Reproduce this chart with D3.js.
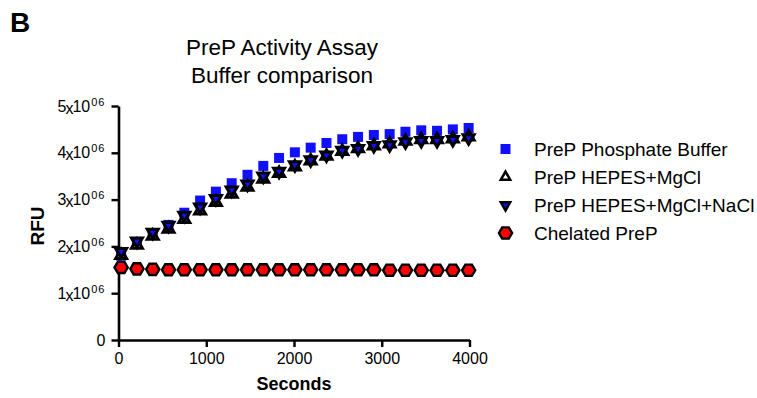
<!DOCTYPE html>
<html>
<head>
<meta charset="utf-8">
<script src="https://cdn.jsdelivr.net/npm/d3@7"></script>
<style>
  html, body { margin: 0; padding: 0; background: #fff; }
  svg { display: block; font-family: "Liberation Sans", Arial, Helvetica, sans-serif; }
</style>
</head>
<body>
<svg id="chart" width="757" height="398"></svg>
<script>
// Sampling times (seconds)
const seconds = [30, 210, 390, 570, 750, 930, 1110, 1290, 1470, 1650, 1830, 2010,
                 2190, 2370, 2550, 2730, 2910, 3090, 3270, 3450, 3630, 3810, 3990];

// Fluorescence readings, in units of 10^6 RFU
const phosphate = [1.80, 2.07, 2.27, 2.46, 2.72, 2.98, 3.17, 3.35, 3.53, 3.72, 3.89, 4.01,
                   4.11, 4.21, 4.29, 4.34, 4.38, 4.40, 4.45, 4.48, 4.47, 4.50, 4.53];
const hepesMg = [1.81, 2.03, 2.22, 2.37, 2.58, 2.76, 2.94, 3.12, 3.27, 3.44, 3.56, 3.70,
                 3.83, 3.93, 4.03, 4.09, 4.15, 4.19, 4.25, 4.28, 4.28, 4.30, 4.34];
const hepesMgNa = [1.89, 2.11, 2.30, 2.45, 2.66, 2.84, 3.02, 3.20, 3.33, 3.50, 3.60, 3.74,
                   3.85, 3.95, 4.05, 4.09, 4.15, 4.17, 4.23, 4.26, 4.26, 4.28, 4.32];
const chelated = [1.55, 1.52, 1.51, 1.50, 1.50, 1.50, 1.50, 1.50, 1.50, 1.50, 1.50, 1.50,
                  1.50, 1.50, 1.50, 1.50, 1.50, 1.49, 1.49, 1.49, 1.49, 1.49, 1.49];

const xTicks = [0, 1000, 2000, 3000, 4000];
const yTicks = [0, 1, 2, 3, 4, 5];   // x10^6

const seriesNames = ["PreP Phosphate Buffer", "PreP HEPES+MgCl", "PreP HEPES+MgCl+NaCl", "Chelated PreP"];

const svg = d3.select("#chart");
const FONT = '"Liberation Sans", Arial, Helvetica, sans-serif';

const x = d3.scaleLinear().domain([0, 4000]).range([118.5, 469.5]);
const y = d3.scaleLinear().domain([0, 5]).range([340, 106]);

// Panel letter
svg.append("text").attr("x", 10).attr("y", 32)
  .attr("font-size", 28).attr("font-weight", "bold").text("B");

// Title
const title = svg.append("text").attr("text-anchor", "middle").attr("font-size", 22.5);
title.append("tspan").attr("x", 282).attr("y", 55).text("PreP Activity Assay");
title.append("tspan").attr("x", 282).attr("y", 83).text("Buffer comparison");

// Axes
const axisStyle = g => {
  g.selectAll(".domain").attr("stroke", "#000").attr("stroke-width", 2.6);
  g.selectAll(".tick line").attr("stroke", "#000").attr("stroke-width", 2.4);
  g.selectAll("text").attr("fill", "#000").attr("font-family", FONT);
};

const xAxis = svg.append("g").attr("transform", "translate(0,340)")
  .call(d3.axisBottom(x).tickValues(xTicks).tickFormat(d3.format("d"))
    .tickSize(7).tickSizeOuter(0).tickPadding(6))
  .call(axisStyle);
xAxis.selectAll("text").attr("font-size", 16).attr("dy", "0.71em");

const yAxis = svg.append("g").attr("transform", "translate(118.5,0)")
  .call(d3.axisLeft(y).tickValues(yTicks).tickSize(7).tickSizeOuter(0).tickPadding(7))
  .call(axisStyle);

// Scientific-notation tick labels: "5x10^06"
yAxis.selectAll(".tick text").each(function(d) {
  const t = d3.select(this).text("").attr("font-size", 16).attr("x", -13);
  if (d === 0) { t.text("0"); return; }
  t.append("tspan").text(d);
  t.append("tspan").attr("dx", -1).attr("dy", 2).text("x");
  t.append("tspan").attr("dx", -1).attr("dy", -2).text("10");
  t.append("tspan").attr("font-size", 11).attr("dx", 1).attr("dy", -6).attr("letter-spacing", 1).text("06");
});

// Axis titles
svg.append("text").attr("x", 294).attr("y", 390).attr("text-anchor", "middle")
  .attr("font-size", 18).attr("font-weight", "bold").text("Seconds");
svg.append("text").attr("transform", "translate(44,226) rotate(-90)").attr("text-anchor", "middle")
  .attr("font-size", 19).attr("font-weight", "bold").text("RFU");

// Marker shapes
const squarePath = d3.symbol(d3.symbolSquare, 100)();
const triPath = d3.symbol(d3.symbolTriangle, 52)();
const hexPath = (() => {
  const rx = 6.6, ry = 5.6;
  const pts = [[-rx, 0], [-rx / 2, -ry], [rx / 2, -ry], [rx, 0], [rx / 2, ry], [-rx / 2, ry]];
  return "M" + pts.map(p => p.join(",")).join("L") + "Z";
})();

const styles = [
  { path: squarePath, rot: 0, fill: "#1010ff", stroke: "none", sw: 0 },
  { path: triPath, rot: 0, fill: "#ffffff", stroke: "#000", sw: 3 },
  { path: triPath, rot: 180, fill: "#1010ff", stroke: "#000", sw: 3 },
  { path: hexPath, rot: 0, fill: "#ff0000", stroke: "#000", sw: 2.4 }
];

const allSeries = [phosphate, hepesMg, hepesMgNa, chelated];

const plot = svg.append("g");
// Chelated first so the buffers sit on top; phosphate under the HEPES markers
[3, 0, 1, 2].forEach(i => {
  const s = styles[i];
  plot.append("g").selectAll("path")
    .data(seconds.map((t, k) => [t, allSeries[i][k]]))
    .join("path")
    .attr("d", s.path)
    .attr("transform", d => `translate(${x(d[0])},${y(d[1])}) rotate(${s.rot})`)
    .attr("fill", s.fill)
    .attr("stroke", s.stroke)
    .attr("stroke-width", s.sw)
    .attr("stroke-linejoin", "miter");
});

// Legend
const legend = svg.append("g");
seriesNames.forEach((name, i) => {
  const cy = 149 + i * 28;
  const s = styles[i];
  legend.append("path").attr("d", s.path)
    .attr("transform", `translate(505.5,${cy}) rotate(${s.rot}) scale(${i === 0 || i === 3 ? 1 : 0.85})`)
    .attr("fill", s.fill).attr("stroke", s.stroke).attr("stroke-width", s.sw);
  legend.append("text").attr("x", 534).attr("y", cy + 7)
    .attr("font-size", 19).text(name);
});
</script>
</body>
</html>
